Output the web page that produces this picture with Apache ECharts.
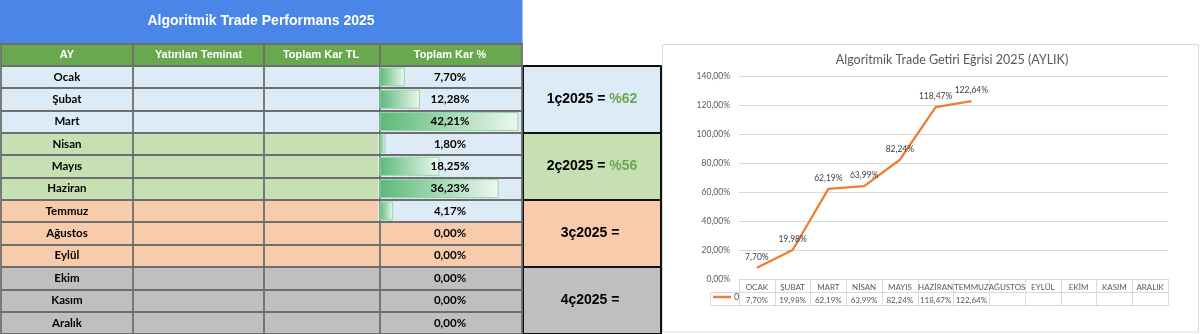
<!DOCTYPE html>
<html>
<head>
<meta charset="utf-8">
<script src="https://cdn.jsdelivr.net/npm/echarts@6/dist/echarts.min.js"></script>
<style>
html,body{margin:0;padding:0;background:#fff;}
#main{width:1200px;height:334px;}
</style>
</head>
<body>
<div id="main"></div>
<script>
// ---------- data ----------
const tableTitle = 'Algoritmik Trade Performans 2025';
const headers = ['AY', 'Yatırılan Teminat', 'Toplam Kar TL', 'Toplam Kar %'];
const months = ['Ocak', 'Şubat', 'Mart', 'Nisan', 'Mayıs', 'Haziran', 'Temmuz', 'Ağustos', 'Eylül', 'Ekim', 'Kasım', 'Aralık'];
const monthlyPct = [7.70, 12.28, 42.21, 1.80, 18.25, 36.23, 4.17, 0, 0, 0, 0, 0];
const quarterNames = ['1ç2025', '2ç2025', '3ç2025', '4ç2025'];
const quarterPct = [62, 56, null, null];

const chartTitle = 'Algoritmik Trade Getiri Eğrisi 2025 (AYLIK)';
const chartMonths = ['OCAK', 'ŞUBAT', 'MART', 'NİSAN', 'MAYIS', 'HAZİRAN', 'TEMMUZ', 'AĞUSTOS', 'EYLÜL', 'EKİM', 'KASIM', 'ARALIK'];
const seriesName = '0';
const cumulativePct = [7.70, 19.98, 62.19, 63.99, 82.24, 118.47, 122.64, null, null, null, null, null];

// ---------- styles ----------
const BLUE = '#4A86E8', GREEN = '#6AA84F';
const Q1 = '#DDEBF7', Q2 = '#C6E0B4', Q3 = '#F8CBAD', Q4 = '#BFBFBF';
const rowColors = [GREEN, Q1, Q1, Q1, Q2, Q2, Q2, Q3, Q3, Q3, Q4, Q4, Q4];
const pctColors = [GREEN, Q1, Q1, Q1, Q1, Q1, Q1, Q1, Q3, Q3, Q4, Q4, Q4];
const quarterColors = [Q1, Q2, Q3, Q4];
const LINE = '#6E6E6E';
const CAL = 'Lato, "Open Sans", sans-serif';
const ARIAL = '"Liberation Sans", Arial, sans-serif';

const fmt = v => v.toFixed(2).replace('.', ',') + '%';

const rowCats = ['h'].concat(months);
const TOP = 43.3, H = 290.7;
const cols = [{l: 0.9, w: 132.1}, {l: 133, w: 131}, {l: 264, w: 114}, {l: 378, w: 144}];

const rich = {
  h: {color: '#fff', fontFamily: ARIAL, fontWeight: 'bold', fontSize: 11},
  m: {color: '#000', fontFamily: CAL, fontWeight: 'bold', fontSize: 11.5}
};

function tableYAxis(gi, colorList, labelFn) {
  return {
    type: 'category', gridIndex: gi, data: rowCats, inverse: true,
    axisLine: {show: true, lineStyle: {color: LINE, width: 1.8}}, axisTick: {show: false},
    axisLabel: labelFn ? {show: true, inside: true, interval: 0, margin: cols[gi].w / 2, align: 'center', formatter: labelFn, rich: rich} : {show: false},
    splitLine: {show: true, interval: 0, lineStyle: {color: LINE, width: 1.8}},
    splitArea: {show: true, interval: 0, areaStyle: {color: colorList}}
  };
}

const grids = cols.map(c => ({left: c.l, top: TOP, width: c.w, height: H}));
grids.push({left: 523, top: 66, width: 138, height: 268});
grids.push({left: 739, top: 76, width: 429, height: 203});

const xAxes = [
  {type: 'value', gridIndex: 0, show: false, min: 0, max: 1},
  {type: 'value', gridIndex: 1, show: false, min: 0, max: 1},
  {type: 'value', gridIndex: 2, show: false, min: 0, max: 1},
  {type: 'value', gridIndex: 3, show: false, min: -0.45, max: 43.3},
  {type: 'value', gridIndex: 4, show: false, min: 0, max: 1},
  {
    type: 'category', gridIndex: 5, data: chartMonths, boundaryGap: true,
    axisLine: {show: true, lineStyle: {color: '#D9D9D9', width: 1}},
    axisTick: {show: true, interval: 0, length: 26, lineStyle: {color: '#D9D9D9'}},
    axisLabel: {
      interval: 0, margin: 2, lineHeight: 13, fontSize: 8, color: '#595959', fontFamily: CAL,
      formatter: (v, i) => v + '\n' + (cumulativePct[i] != null ? fmt(cumulativePct[i]) : '')
    },
    splitLine: {show: false}
  },
  {type: 'category', gridIndex: 5, data: chartMonths, position: 'bottom', offset: 13,
    axisLine: {show: true, lineStyle: {color: '#D9D9D9'}}, axisTick: {show: false}, axisLabel: {show: false}},
  {type: 'category', gridIndex: 5, data: chartMonths, position: 'bottom', offset: 26,
    axisLine: {show: true, lineStyle: {color: '#D9D9D9'}}, axisTick: {show: false}, axisLabel: {show: false}}
];

const yAxes = [
  tableYAxis(0, rowColors, (v, i) => i === 0 ? '{h|' + headers[0] + '}' : '{m|' + v + '}'),
  tableYAxis(1, rowColors, (v, i) => i === 0 ? '{h|' + headers[1] + '}' : ''),
  tableYAxis(2, rowColors, (v, i) => i === 0 ? '{h|' + headers[2] + '}' : ''),
  tableYAxis(3, pctColors, null),
  {
    type: 'category', gridIndex: 3, data: rowCats, inverse: true, z: 10, position: 'right',
    axisLine: {show: true, lineStyle: {color: LINE, width: 1.8}}, axisTick: {show: false}, splitLine: {show: false}, splitArea: {show: false},
    axisLabel: {show: true, inside: true, interval: 0, margin: cols[3].w / 2, align: 'center', rich: rich,
      formatter: (v, i) => i === 0 ? '{h|' + headers[3] + '}' : '{m|' + fmt(monthlyPct[i - 1]) + '}'}
  },
  {
    type: 'category', gridIndex: 4, data: quarterNames, inverse: true,
    axisLine: {show: true, lineStyle: {color: '#111', width: 2}}, axisTick: {show: false},
    splitLine: {show: true, interval: 0, lineStyle: {color: '#111', width: 2}},
    splitArea: {show: true, interval: 0, areaStyle: {color: quarterColors}},
    axisLabel: {show: true, inside: true, interval: 0, margin: 69, align: 'center',
      formatter: (v, i) => '{a|' + v + ' = }' + (quarterPct[i] != null ? '{b|%' + quarterPct[i] + '}' : ''),
      rich: {
        a: {color: '#000', fontFamily: ARIAL, fontWeight: 'bold', fontSize: 14},
        b: {color: GREEN, fontFamily: ARIAL, fontWeight: 'bold', fontSize: 14}
      }}
  },
  {
    type: 'value', gridIndex: 6 - 1, min: 0, max: 140, interval: 20,
    axisLine: {show: false}, axisTick: {show: false},
    axisLabel: {fontSize: 8.5, color: '#595959', fontFamily: CAL, margin: 9, formatter: v => fmt(v)},
    splitLine: {lineStyle: {color: '#D9D9D9', width: 1}}
  },
  {
    type: 'category', gridIndex: 4, data: quarterNames, inverse: true, position: 'right',
    axisLine: {show: true, lineStyle: {color: '#111', width: 2}}, axisTick: {show: false},
    axisLabel: {show: false}, splitLine: {show: false}, splitArea: {show: false}
  }
];

const option = {
  animation: false,
  backgroundColor: '#fff',
  title: [
    {text: tableTitle, left: 261, top: 14, padding: 0, textAlign: 'center',
      textStyle: {color: '#fff', fontFamily: ARIAL, fontWeight: 'bold', fontSize: 14}},
    {text: chartTitle, left: 952, top: 53, padding: 0, textAlign: 'center',
      textStyle: {color: '#595959', fontFamily: CAL, fontWeight: 'normal', fontSize: 12.5}}
  ],
  legend: {
    data: [seriesName], left: 713, top: 292.5, icon: 'rect', itemWidth: 18, itemHeight: 2.5, padding: 0,
    textStyle: {fontSize: 9, color: '#595959', fontFamily: CAL, padding: [0, 0, 0, -2]}
  },
  graphic: [
    {type: 'rect', z: -10, shape: {x: 0, y: 0, width: 522.5, height: 44}, style: {fill: BLUE}},
    {type: 'rect', z: -10, shape: {x: 662.5, y: 44.5, width: 536, height: 287.5}, style: {fill: '#fff', stroke: '#D9D9D9', lineWidth: 1}},
    {type: 'polyline', z: 5, shape: {points: [[739, 292.5], [710.5, 292.5], [710.5, 305.5], [739, 305.5]]}, style: {fill: null, stroke: '#D9D9D9', lineWidth: 1}}
  ],
  grid: grids,
  xAxis: xAxes,
  yAxis: yAxes,
  series: [
    {
      type: 'bar', xAxisIndex: 3, yAxisIndex: 3, barWidth: 19,
      data: ['-'].concat(monthlyPct.map(v => v > 0 ? v : '-')),
      itemStyle: {
        color: new echarts.graphic.LinearGradient(0, 0, 1, 0, [{offset: 0, color: '#5BB978'}, {offset: 1, color: '#EDF8F0'}]),
        borderColor: '#95D5A8', borderWidth: 1
      }
    },
    {
      name: seriesName, type: 'line', xAxisIndex: 5, yAxisIndex: 6,
      data: cumulativePct, symbol: 'circle', symbolSize: 0, showSymbol: true,
      lineStyle: {color: '#ED7D31', width: 2.25}, itemStyle: {color: '#ED7D31'},
      label: {show: true, position: 'top', distance: 6, fontSize: 8.5, color: '#404040', fontFamily: CAL,
        formatter: p => fmt(p.value)}
    }
  ]
};

const chart = echarts.init(document.getElementById('main'), null, {renderer: 'canvas'});
chart.setOption(option);
</script>
</body>
</html>
